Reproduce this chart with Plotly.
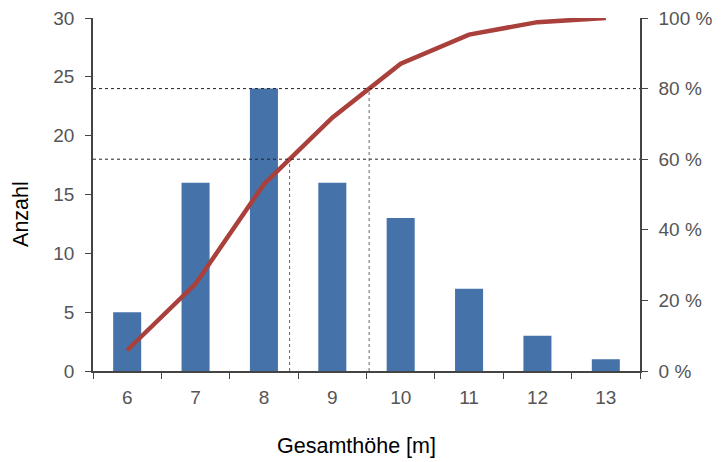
import plotly.graph_objects as go
import numpy as np

categories = ["6", "7", "8", "9", "10", "11", "12", "13"]
counts = [5, 16, 24, 16, 13, 7, 3, 1]
left_ticks = [0, 5, 10, 15, 20, 25, 30]
right_ticks = [0, 20, 40, 60, 80, 100]
right_labels = ["0 %", "20 %", "40 %", "60 %", "80 %", "100 %"]
marks_pct = [60, 80]

total = sum(counts)
cum_pct = list(np.cumsum(counts) / total * 100)
idx = list(range(len(categories)))

font_fam = "Liberation Sans, Arial, sans-serif"

fig = go.Figure()
fig.add_trace(go.Bar(x=categories, y=counts, marker=dict(color="#4573A9", line=dict(width=0)),
                     width=0.41, yaxis="y"))
fig.add_trace(go.Scatter(x=categories, y=cum_pct, mode="lines",
                         line=dict(color="#A9403B", width=4.5), yaxis="y2"))

shapes = []
for p in marks_pct:
    yv = p / 100 * 30
    shapes.append(dict(type="line", xref="paper", yref="y", x0=0, x1=1, y0=yv, y1=yv,
                       line=dict(color="#222", width=1, dash="dot")))
    xi = float(np.interp(p, cum_pct, idx))
    shapes.append(dict(type="line", xref="x", yref="y", x0=xi, x1=xi, y0=0, y1=yv,
                       line=dict(color="#666", width=1, dash="dot")))

annotations = [
    dict(text="Gesamthöhe [m]", xref="paper", yref="paper", x=0.481, y=-0.2125,
         xanchor="center", yanchor="middle", showarrow=False,
         font=dict(size=21.5, color="#000", family=font_fam)),
    dict(text="Anzahl", xref="paper", yref="paper", x=-0.1316, y=0.445, textangle=-90,
         xanchor="center", yanchor="middle", showarrow=False,
         font=dict(size=21.5, color="#000", family=font_fam)),
]

fig.update_layout(
    width=713, height=454,
    margin=dict(l=85, r=81, t=10, b=91),
    paper_bgcolor="white", plot_bgcolor="white",
    showlegend=False,
    bargap=0.5,
    font=dict(family=font_fam, color="#555", size=19),
    shapes=shapes,
    annotations=annotations,
    xaxis=dict(type="category", tickson="boundaries", ticks="outside", ticklen=6,
               tickcolor="#444", showline=True, linecolor="#444", linewidth=1.5,
               showgrid=False, range=[-0.5, 7.5], ticklabelstandoff=8, automargin=False,
               tickfont=dict(size=19, color="#555")),
    yaxis=dict(range=[0, 30], tickvals=left_ticks, ticks="outside", ticklen=6,
               tickcolor="#444", showline=True, linecolor="#444", linewidth=1.5,
               showgrid=False, zeroline=False, tickfont=dict(size=19, color="#555"),
               ticklabelstandoff=7, ticklabeloverflow="allow", automargin=False),
    yaxis2=dict(range=[0, 100], tickvals=right_ticks, ticktext=right_labels, overlaying="y",
                side="right", ticks="outside", ticklen=6, tickcolor="#444", showline=True,
                linecolor="#444", linewidth=1.5, showgrid=False, zeroline=False,
                ticklabelstandoff=7, ticklabeloverflow="allow", automargin=False,
                tickfont=dict(size=19, color="#555")),
)

fig.write_html("out.html")
